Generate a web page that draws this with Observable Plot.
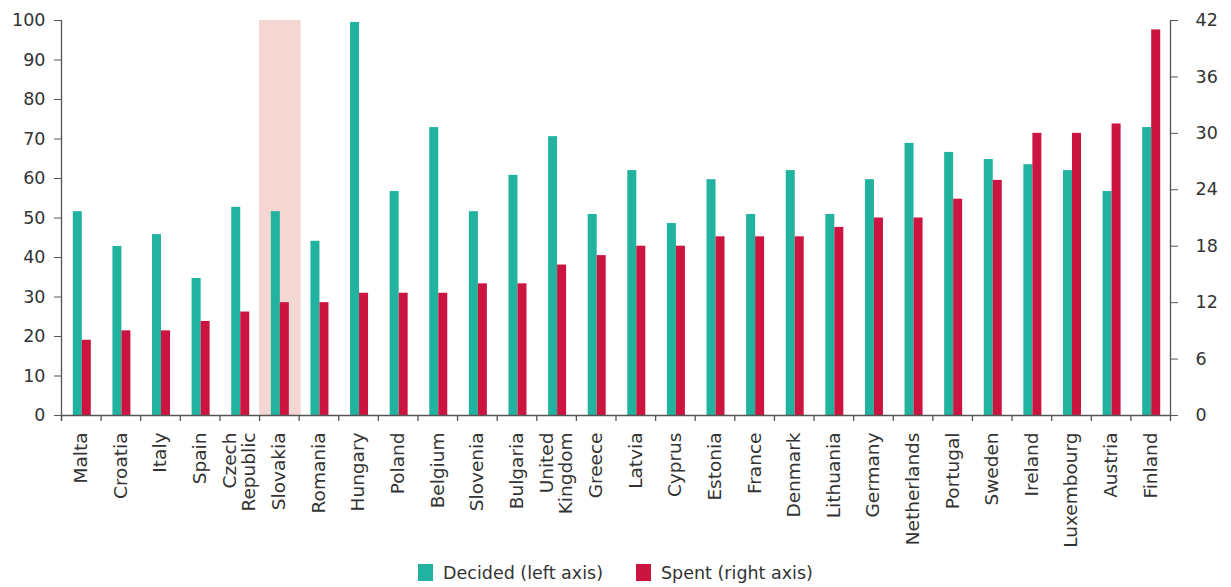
<!DOCTYPE html>
<html>
<head>
<meta charset="utf-8">
<script src="https://cdn.jsdelivr.net/npm/d3@7"></script>
<script src="https://cdn.jsdelivr.net/npm/@observablehq/plot@0.6"></script>
<style>
  html, body { margin: 0; padding: 0; background: #fff; }
  #chart { width: 1231px; }
  .legend { display: flex; justify-content: center; align-items: center; gap: 33px; height: 29px;
    font-family: "DejaVu Sans", sans-serif; font-size: 17.5px; color: #333; }
  .legend .item { display: flex; align-items: center; }
  .legend .sw { width: 15px; height: 17px; margin-right: 10px; }
</style>
</head>
<body>
<div id="chart"></div>
<script>
const countries = ["Malta","Croatia","Italy","Spain","Czech\nRepublic","Slovakia","Romania","Hungary","Poland","Belgium","Slovenia","Bulgaria","United\nKingdom","Greece","Latvia","Cyprus","Estonia","France","Denmark","Lithuania","Germany","Netherlands","Portugal","Sweden","Ireland","Luxembourg","Austria","Finland"];
const decided = [51.6,42.8,45.8,34.7,52.7,51.6,44.1,99.5,56.7,72.9,51.6,60.8,70.6,50.9,62.0,48.6,59.7,50.9,62.0,50.9,59.7,68.9,66.6,64.8,63.5,62.0,56.7,72.9];
const spent = [8,9,9,10,11,12,12,13,13,13,14,14,16,17,18,18,19,19,19,20,21,21,23,25,30,30,31,41];
const leftTicks = [0,10,20,30,40,50,60,70,80,90,100];
const rightTicks = [0,6,12,18,24,30,36,42];
const highlighted = ["Slovakia"];
const seriesNames = ["Decided (left axis)", "Spent (right axis)"];
const seriesColors = ["#22b2a0", "#cc1440"];

const leftMax = 100, rightMax = 42;
const ratio = leftMax / rightMax;
const data = countries.map((c, i) => ({country: c, decided: decided[i], spent: spent[i]}));

const W = 1231, H = 558, mL = 61, mR = 61, mT = 20, mB = 143;
const bw = (W - mL - mR) / countries.length;
const barW = 9;
const axisColor = "#555";

const chart = Plot.plot({
  width: W, height: H,
  marginLeft: mL, marginRight: mR, marginTop: mT, marginBottom: mB,
  style: {fontFamily: "'DejaVu Sans', sans-serif", fontSize: "17.5px", color: "#333", background: "#fff"},
  x: {domain: countries, padding: 0, round: false, label: null},
  y: {domain: [0, leftMax], label: null},
  marks: [
    Plot.barY(highlighted, {x: d => d, y1: 0, y2: leftMax, fill: "#f4d6d2", insetRight: -2}),
    Plot.barY(data, {x: "country", y: "decided", fill: seriesColors[0], insetLeft: bw / 2 - barW + 1, insetRight: bw / 2 - 1}),
    Plot.barY(data, {x: "country", y: d => d.spent * ratio, fill: seriesColors[1], insetLeft: bw / 2 + 1, insetRight: bw / 2 - barW - 1}),
    Plot.ruleY([0], {stroke: axisColor, strokeWidth: 1.3}),
    Plot.ruleX(countries, {x: d => d, dx: -bw / 2, y1: 0, y2: 0, insetBottom: -6, stroke: axisColor, strokeWidth: 1.3}),
    Plot.ruleX([countries[0]], {x: d => d, dx: -bw / 2, y1: leftMax, y2: 0, insetBottom: -6, stroke: axisColor, strokeWidth: 1.3}),
    Plot.ruleX([countries[countries.length - 1]], {x: d => d, dx: bw / 2, y1: leftMax, y2: 0, insetBottom: -6, stroke: axisColor, strokeWidth: 1.3}),
    Plot.axisY({anchor: "left", ticks: leftTicks, tickSize: 7, tickPadding: 9, label: null, stroke: axisColor, fill: "#333"}),
    Plot.axisY({anchor: "right", ticks: rightTicks.map(v => v * ratio), tickFormat: v => String(Math.round(v / ratio)), tickSize: 7, tickPadding: 18, label: null, stroke: axisColor, fill: "#333", textAnchor: "start"}),
    Plot.axisX({anchor: "bottom", tickSize: 0, tickPadding: 17, tickRotate: -90, lineAnchor: "middle", label: null, fill: "#333", lineHeight: 1.0, fontSize: 18.5})
  ]
});
document.getElementById("chart").appendChild(chart);

const legend = document.createElement("div");
legend.className = "legend";
seriesNames.forEach((name, i) => {
  const item = document.createElement("div");
  item.className = "item";
  const sw = document.createElement("span");
  sw.className = "sw";
  sw.style.background = seriesColors[i];
  const t = document.createElement("span");
  t.textContent = name;
  item.appendChild(sw);
  item.appendChild(t);
  legend.appendChild(item);
});
document.getElementById("chart").appendChild(legend);
</script>
</body>
</html>
